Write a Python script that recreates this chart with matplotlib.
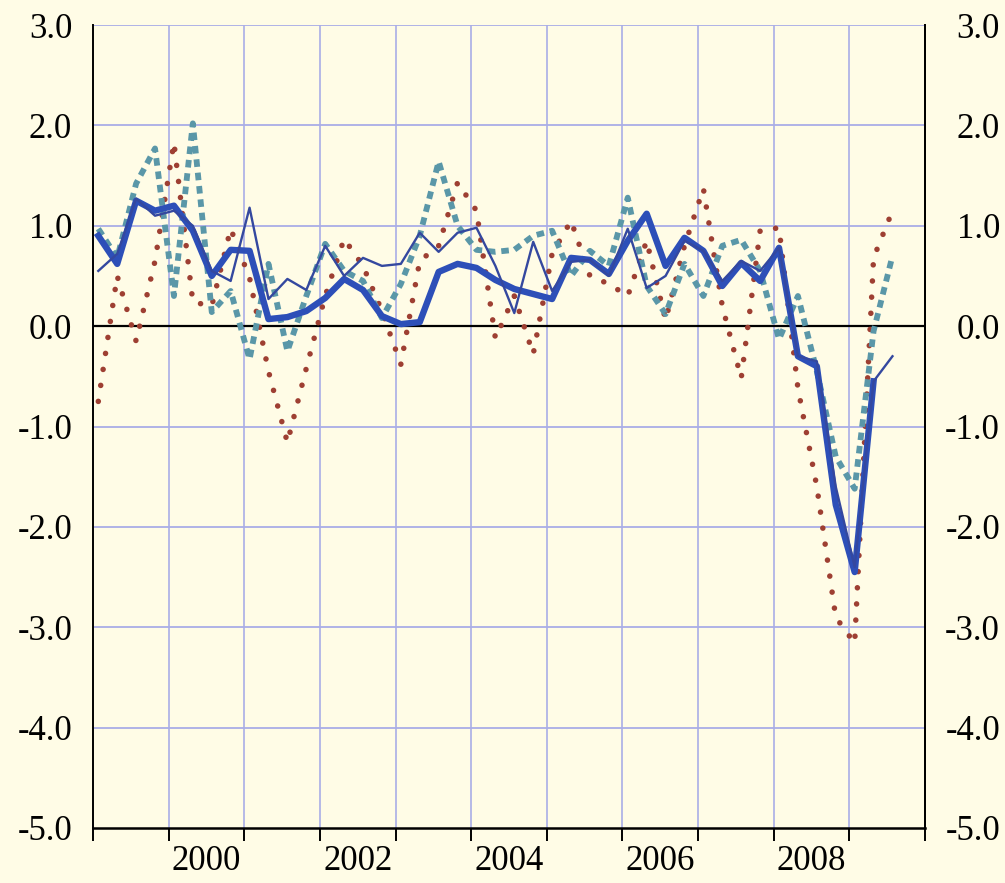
import numpy as np
import pandas as pd
import matplotlib
matplotlib.use("Agg")
import matplotlib.pyplot as plt

# ---------------- data (quarterly, 1999Q1 .. 2009Q3) ----------------
quarters = pd.period_range("1999Q1", "2009Q3", freq="Q")

series_thick = [0.90, 0.62, 1.25, 1.15, 1.20, 0.95, 0.50, 0.76, 0.75, 0.07,
                0.09, 0.15, 0.28, 0.47, 0.36, 0.10, 0.02, 0.04, 0.54, 0.62,
                0.58, 0.46, 0.37, 0.32, 0.27, 0.68, 0.66, 0.52, 0.85, 1.12,
                0.60, 0.88, 0.75, 0.40, 0.63, 0.45, 0.78, -0.30, -0.40, -1.78,
                -2.45, -0.55, np.nan]

series_thin = [0.55, 0.72, 1.27, 1.10, 1.15, 1.00, 0.55, 0.45, 1.18, 0.27,
               0.47, 0.36, 0.80, 0.50, 0.68, 0.60, 0.62, 0.93, 0.74, 0.93,
               0.98, 0.60, 0.13, 0.84, 0.35, 0.64, 0.66, 0.50, 0.97, 0.38,
               0.50, 0.85, 0.75, 0.45, 0.65, 0.55, 0.78, -0.30, -0.35, -1.60,
               -2.40, -0.55, -0.30]

series_teal = [0.97, 0.68, 1.42, 1.77, 0.30, 2.02, 0.14, 0.35, -0.33, 0.62,
               -0.25, 0.30, 0.82, 0.55, 0.45, 0.08, 0.42, 0.90, 1.64, 1.00,
               0.76, 0.74, 0.76, 0.90, 0.95, 0.50, 0.75, 0.60, 1.28, 0.40,
               0.12, 0.62, 0.30, 0.80, 0.86, 0.55, -0.13, 0.30, -0.45, -1.30,
               -1.62, -0.05, 0.70]

series_red = [-0.75, 0.50, -0.15, 0.65, 1.83, 0.24, 0.20, 0.97, 0.48, -0.45,
              -1.16, -0.42, 0.30, 0.87, 0.60, 0.15, -0.38, 0.65, 0.80, 1.43,
              1.15, -0.12, 0.30, -0.28, 0.72, 1.05, 0.50, 0.42, 0.30, 0.85,
              0.06, 0.80, 1.37, 0.20, -0.52, 0.95, 0.98, -0.62, -1.60, -2.90,
              -3.16, 0.68, 1.15]

year_ticks = list(range(1999, 2011))
year_labels = ["2000", "2002", "2004", "2006", "2008"]
y_ticks = [3.0, 2.0, 1.0, 0.0, -1.0, -2.0, -3.0, -4.0, -5.0]
y_labels = ["3.0", "2.0", "1.0", "0.0", "-1.0", "-2.0", "-3.0", "-4.0", "-5.0"]

# ---------------- style ----------------
BG = "#FFFCE6"
GRID = "#A9ADE6"
FONT = "Liberation Serif"
FS = 25

x = np.array([q.year + (q.quarter - 1) / 4 + 0.07 for q in quarters])

fig = plt.figure(figsize=(10.05, 8.83), dpi=100)
fig.patch.set_facecolor(BG)
ax = fig.add_axes([93 / 1005, 1 - 828 / 883, (925 - 93) / 1005, (828 - 25) / 883])
ax.set_facecolor(BG)

ax.set_xlim(1999, 2010)
ax.set_ylim(-5, 3)

# grid
for yv in y_ticks[:-1]:
    if yv != 0:
        ax.axhline(yv, color=GRID, lw=1.3, zorder=1)
for xv in year_ticks[1:-1]:
    ax.axvline(xv, color=GRID, lw=1.2, zorder=1)
ax.axhline(0, color="black", lw=1.6, zorder=2)

# series
ax.plot(x, series_red, color="#9E3F32", lw=4.0, linestyle=(0, (0.01, 2.9)),
        dash_capstyle="round", zorder=3)
ax.plot(x, series_teal, color="#5A97A8", lw=4.2, linestyle=(0, (1.3, 1.0)),
        dash_capstyle="butt", zorder=4)
ax.plot(x, series_thick, color="#2D4FB8", lw=4.6, solid_joinstyle="round", zorder=5)
ax.plot(x, series_thin, color="#34489F", lw=1.7, zorder=6)

# spines
for s in ["left", "right", "bottom"]:
    ax.spines[s].set_color("black")
    ax.spines[s].set_linewidth(1.4)
ax.spines["top"].set_visible(False)
ax.spines["bottom"].set_linewidth(1.8)

# x ticks
ax.set_xticks(year_ticks)
ax.set_xticklabels([])
ax.tick_params(axis="x", which="major", direction="out", length=9, width=1.4, color="black")
ax.set_xticks([int(l) + 0.5 for l in year_labels], minor=True)
ax.set_xticklabels(year_labels, minor=True, fontfamily=FONT, fontsize=FS)
ax.tick_params(axis="x", which="minor", length=0, pad=12)

# y ticks left
ax.set_yticks(y_ticks)
ax.set_yticklabels(y_labels, fontfamily=FONT, fontsize=FS)
ax.tick_params(axis="y", length=0, pad=15)

# y ticks right
ax2 = ax.twinx()
ax2.set_ylim(-5, 3)
ax2.set_yticks(y_ticks)
ax2.set_yticklabels(y_labels, fontfamily=FONT, fontsize=FS)
ax2.tick_params(axis="y", length=0, pad=54)
for lbl in ax2.get_yticklabels():
    lbl.set_horizontalalignment("right")
for s in ["left", "top", "bottom"]:
    ax2.spines[s].set_visible(False)
ax2.spines["right"].set_color("black")
ax2.spines["right"].set_linewidth(1.4)

fig.savefig("out.png", dpi=100, facecolor=BG)
